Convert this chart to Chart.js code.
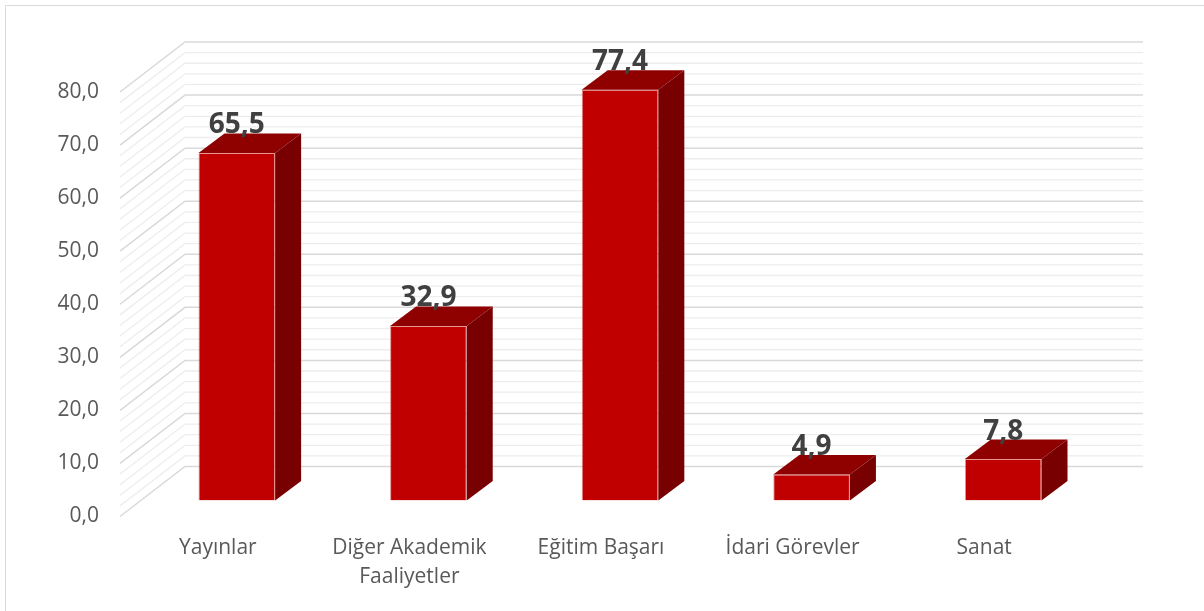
<!DOCTYPE html>
<html lang="tr">
<head>
  <meta charset="UTF-8" />
  <title>Puan Dağılımı</title>
  <script src="https://cdn.jsdelivr.net/npm/chart.js"></script>
  <style>
    html, body { margin: 0; padding: 0; background: #fff; }
    .wrap { position: relative; width: 1204px; height: 611px; }
  </style>
</head>
<body>
  <div class="wrap"><canvas id="chart" width="1204" height="611"></canvas></div>

  <script>
    const categories = ['Yayınlar', ['Diğer Akademik', 'Faaliyetler'], 'Eğitim Başarı', 'İdari Görevler', 'Sanat'];
    const values = [65.5, 32.9, 77.4, 4.9, 7.8];
    const yTicks = [0, 10, 20, 30, 40, 50, 60, 70, 80];

    const fmt = v => v.toFixed(1).replace('.', ',');

    // depth offsets (relative to the bar plane)
    const BACK = { dx: 44, dy: -34 };
    const FRONT = { dx: -21, dy: 16 };
    const BAR_DEPTH = { dx: 26, dy: -19.5 };

    const box3d = {
      id: 'box3d',
      beforeDraw(chart) {
        const c = chart.ctx;
        c.save();
        c.strokeStyle = '#d9d9d9';
        c.lineWidth = 1;
        c.beginPath();
        c.moveTo(5.5, 611);
        c.lineTo(5.5, 5.5);
        c.lineTo(1204, 5.5);
        c.stroke();
        c.restore();
      },
      beforeDatasetsDraw(chart) {
        const c = chart.ctx;
        const y = chart.scales.y;
        const area = chart.chartArea;
        c.save();
        for (let v = 0; v <= 80; v += 2) {
          const py = y.getPixelForValue(v);
          const major = v % 10 === 0;
          c.strokeStyle = major ? '#d9d9d9' : '#ededed';
          c.lineWidth = major ? 1.5 : 1.3;
          c.beginPath();
          c.moveTo(area.left + FRONT.dx, py + FRONT.dy);
          c.lineTo(area.left + BACK.dx, py + BACK.dy);
          c.lineTo(area.right + BACK.dx, py + BACK.dy);
          c.stroke();
        }
        c.restore();
      },
      afterDatasetsDraw(chart) {
        const c = chart.ctx;
        const meta = chart.getDatasetMeta(0);
        c.save();
        meta.data.forEach((bar, i) => {
          const x0 = bar.x - bar.width / 2;
          const x1 = bar.x + bar.width / 2;
          const top = bar.y;
          const base = bar.base;
          // top face
          c.fillStyle = '#8f0000';
          c.beginPath();
          c.moveTo(x0, top);
          c.lineTo(x0 + BAR_DEPTH.dx, top + BAR_DEPTH.dy);
          c.lineTo(x1 + BAR_DEPTH.dx, top + BAR_DEPTH.dy);
          c.lineTo(x1, top);
          c.closePath();
          c.fill();
          // side face
          c.fillStyle = '#780000';
          c.beginPath();
          c.moveTo(x1, top);
          c.lineTo(x1 + BAR_DEPTH.dx, top + BAR_DEPTH.dy);
          c.lineTo(x1 + BAR_DEPTH.dx, base + BAR_DEPTH.dy);
          c.lineTo(x1, base);
          c.closePath();
          c.fill();
          // value label
          c.fillStyle = '#404040';
          c.font = 'bold 28px "Open Sans"';
          c.textAlign = 'center';
          c.textBaseline = 'alphabetic';
          c.fillText(fmt(values[i]), bar.x, top + BAR_DEPTH.dy);
        });
        c.restore();
      }
    };

    const ctx = document.getElementById('chart').getContext('2d');
    const chart = new Chart(ctx, {
      type: 'bar',
      data: {
        labels: categories,
        datasets: [{
          data: values,
          backgroundColor: '#c00000',
          borderColor: 'rgba(215,80,80,0.6)',
          borderWidth: 1,
          barPercentage: 0.4,
          categoryPercentage: 1.0
        }]
      },
      options: {
        responsive: false,
        animation: false,
        layout: { padding: { top: 76, right: 105, left: 0, bottom: 0 } },
        scales: {
          x: {
            grid: { display: false, drawTicks: false },
            border: { display: false },
            ticks: {
              color: '#595959',
              font: { family: 'Open Sans', size: 21, lineHeight: 1.38 },
              padding: 33,
              labelOffset: -19,
              maxRotation: 0,
              autoSkip: false
            },
            afterFit(s) { s.height = 110.5; }
          },
          y: {
            min: 0,
            max: 80,
            afterBuildTicks(s) { s.ticks = yTicks.map(v => ({ value: v })); },
            grid: { display: false, drawTicks: false },
            border: { display: false },
            ticks: {
              color: '#595959',
              font: { family: 'Open Sans', size: 21 },
              padding: 42,
              labelOffset: 16,
              callback: v => fmt(v)
            },
            afterFit(s) { s.width = 141; }
          }
        },
        plugins: {
          legend: { display: false },
          tooltip: { enabled: false }
        }
      },
      plugins: [box3d]
    });
  </script>
</body>
</html>
